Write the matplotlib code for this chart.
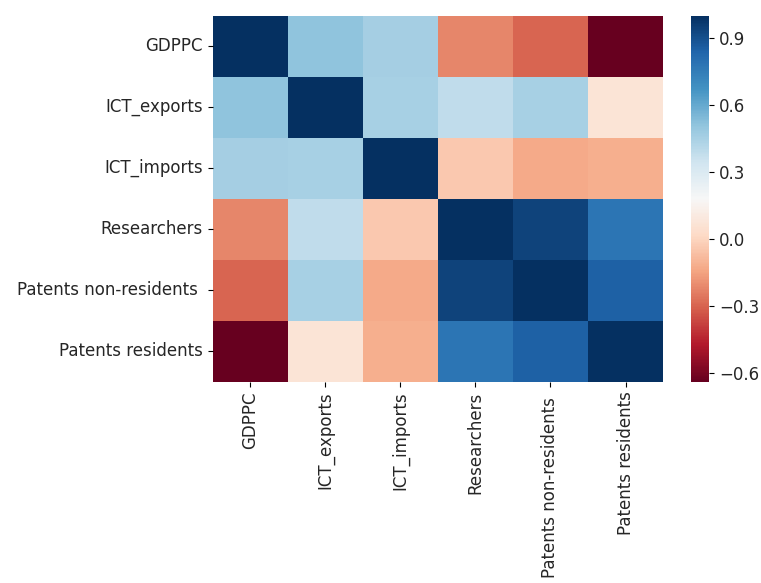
import matplotlib
matplotlib.use("Agg")
import matplotlib.pyplot as plt
import numpy as np
import pandas as pd
import seaborn as sns

labels = ["GDPPC", "ICT_exports", "ICT_imports", "Researchers",
          "Patents non-residents ", "Patents residents"]

row_gdppc = [1.00, 0.51, 0.46, -0.22, -0.30, -0.64]
row_ict_exports = [0.51, 1.00, 0.45, 0.39, 0.45, 0.07]
row_ict_imports = [0.46, 0.45, 1.00, -0.04, -0.13, -0.12]
row_researchers = [-0.22, 0.39, -0.04, 1.00, 0.94, 0.78]
row_pat_nonres = [-0.30, 0.45, -0.13, 0.94, 1.00, 0.85]
row_pat_res = [-0.64, 0.07, -0.12, 0.78, 0.85, 1.00]

cbar_ticks = [0.9, 0.6, 0.3, 0.0, -0.3, -0.6]

corr = pd.DataFrame([row_gdppc, row_ict_exports, row_ict_imports,
                     row_researchers, row_pat_nonres, row_pat_res],
                    index=labels, columns=labels)

fig = plt.figure(figsize=(7.61, 5.83), dpi=100)
ax = fig.add_axes([0.2795, 0.3453, 0.5918, 0.6278])
cax = fig.add_axes([0.9076, 0.3453, 0.0244, 0.6278])

sns.heatmap(corr, cmap="RdBu", ax=ax, cbar_ax=cax,
            cbar_kws={"ticks": cbar_ticks})

ax.set_xticklabels(labels, rotation=90, fontsize=12, color="#262626")
ax.set_yticklabels(labels, rotation=0, fontsize=12, color="#262626")
cax.tick_params(labelsize=12, labelcolor="#262626")

fig.savefig("out.png", dpi=100)
